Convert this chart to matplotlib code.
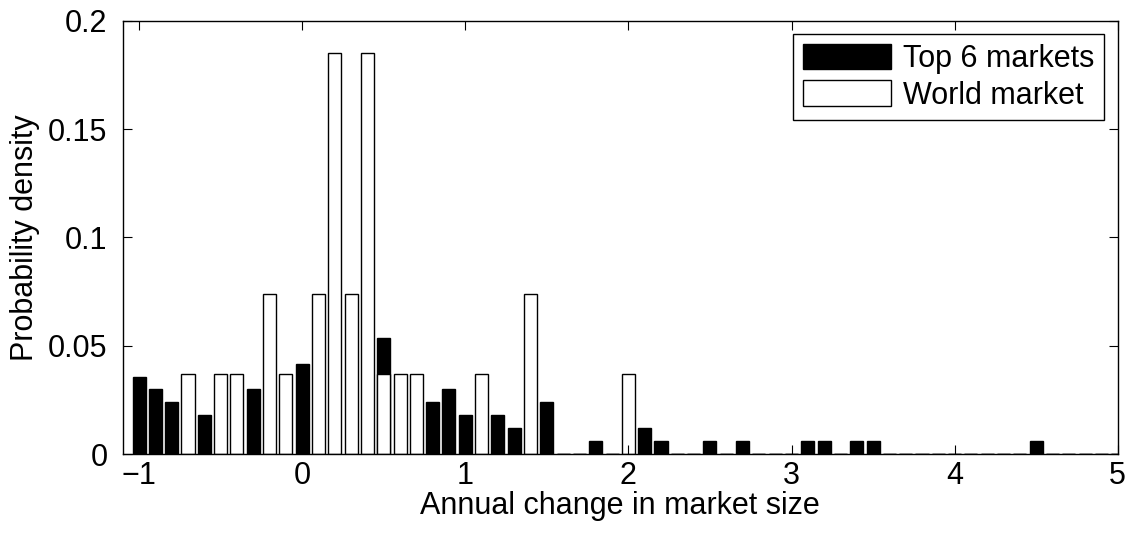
import numpy as np
import matplotlib
matplotlib.use("Agg")
import matplotlib.pyplot as plt

# bin centres (width 0.1) and densities
centers = np.round(np.arange(-1.0, 5.0001, 0.1), 1)

top6 = {
    -1.0: 0.0357, -0.9: 0.0298, -0.8: 0.0238, -0.6: 0.0179, -0.3: 0.0298,
    0.0: 0.0417, 0.5: 0.0536, 0.8: 0.0238, 0.9: 0.0298, 1.0: 0.0179,
    1.2: 0.0179, 1.3: 0.0119, 1.5: 0.0238, 1.8: 0.0060, 2.1: 0.0119,
    2.2: 0.0060, 2.5: 0.0060, 2.7: 0.0060, 3.1: 0.0060, 3.2: 0.0060,
    3.4: 0.0060, 3.5: 0.0060, 4.5: 0.0060,
}
world = {
    -0.7: 0.037, -0.5: 0.037, -0.4: 0.037, -0.2: 0.074, -0.1: 0.037,
    0.1: 0.074, 0.2: 0.185, 0.3: 0.074, 0.4: 0.185, 0.5: 0.037,
    0.6: 0.037, 0.7: 0.037, 1.1: 0.037, 1.4: 0.074, 2.0: 0.037,
}

top6_vals = [top6.get(c, 0.0) for c in centers]
world_vals = [world.get(c, 0.0) for c in centers]

fs = 22
plt.rcParams['font.family'] = ['Liberation Sans', 'DejaVu Sans']
plt.rcParams['font.size'] = fs

fig = plt.figure(figsize=(11.27, 5.34), dpi=100)
ax = fig.add_axes([0.1089, 0.1498, 0.8829, 0.8114])

ax.bar(centers, top6_vals, width=0.08, color='black', edgecolor='black',
       linewidth=1, label='Top 6 markets')
ax.bar(centers, world_vals, width=0.08, color='white', edgecolor='black',
       linewidth=1, label='World market')

ax.set_xlim(-1.1, 5)
ax.set_ylim(0, 0.2)
ax.set_xticks(range(-1, 6))
ax.set_xticklabels(['\u22121', '0', '1', '2', '3', '4', '5'])
ax.set_yticks([0, 0.05, 0.1, 0.15, 0.2])
ax.set_yticklabels(['0', '0.05', '0.1', '0.15', '0.2'])
ax.tick_params(direction='in', top=True, right=True, length=6.5, width=0.8,
               labelsize=fs)
ax.tick_params(axis='y', pad=11)
ax.tick_params(axis='x', pad=5)
for s in ax.spines.values():
    s.set_linewidth(1)

ax.set_xlabel('Annual change in market size', fontsize=fs, labelpad=0)
ax.set_ylabel('Probability density', fontsize=fs, labelpad=6)

leg = ax.legend(loc='upper right', fancybox=False, edgecolor='black',
                framealpha=1, handlelength=2.9, handleheight=0.92,
                borderaxespad=0.45, handletextpad=0.4, labelspacing=0.2,
                borderpad=0.3, fontsize=fs)
leg.get_frame().set_linewidth(1)

fig.savefig('out.png', dpi=100)
